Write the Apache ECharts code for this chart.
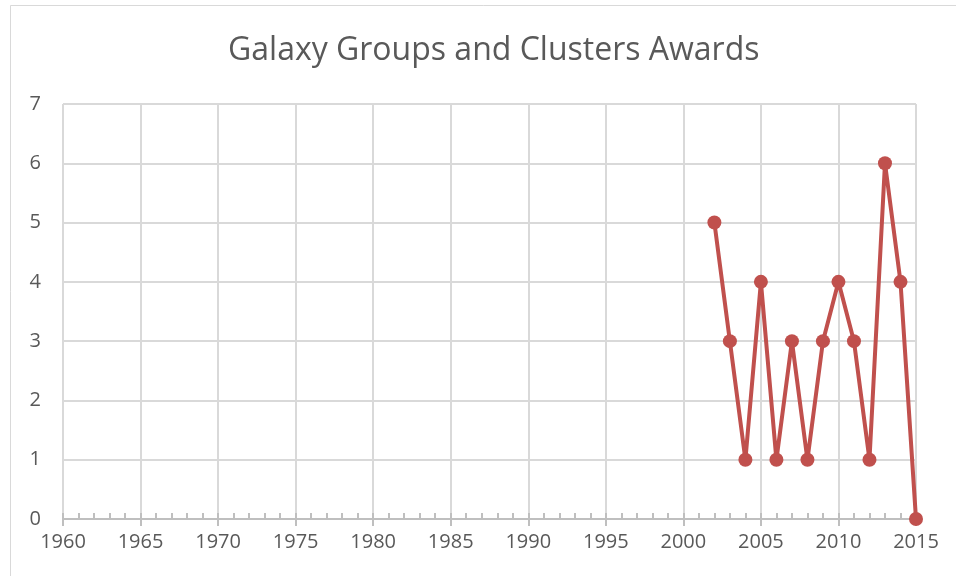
<!DOCTYPE html>
<html>
<head>
<meta charset="utf-8">
<script src="https://cdn.jsdelivr.net/npm/echarts@6/dist/echarts.min.js"></script>
<style>
  html, body { margin: 0; padding: 0; background: #fff; }
  #chart { width: 956px; height: 576px; }
</style>
</head>
<body>
<div id="chart"></div>
<script>
// award counts per year
var years = [2002, 2003, 2004, 2005, 2006, 2007, 2008, 2009, 2010, 2011, 2012, 2013, 2014, 2015];
var awards = [5, 3, 1, 4, 1, 3, 1, 3, 4, 3, 1, 6, 4, 0];

var xMin = 1960, xMax = 2015;
var yMin = 0, yMax = 7;

var points = years.map(function(y, i){ return [y, awards[i]]; });

var chart = echarts.init(document.getElementById('chart'));

var gridPos = { left: 63, right: 40, top: 104, bottom: 57 };

chart.setOption({
  backgroundColor: '#fff',
  animation: false,
  title: {
    text: 'Galaxy Groups and Clusters Awards',
    left: 223,
    top: 30,
    textStyle: { fontFamily: 'Open Sans', fontWeight: 'normal', fontSize: 32, color: '#595959' }
  },
  graphic: [{
    // outer chart frame
    type: 'rect',
    shape: { x: 10.5, y: 5.5, width: 960, height: 600 },
    style: { fill: 'none', stroke: '#d9d9d9', lineWidth: 1 },
    silent: true
  }],
  grid: [gridPos],
  xAxis: [{
    type: 'value',
    min: xMin, max: xMax, interval: 5,
    axisLine: { show: true, lineStyle: { color: '#bfbfbf', width: 2 } },
    axisTick: { show: true, length: 7, lineStyle: { color: '#bfbfbf', width: 2 } },
    splitLine: { show: true, lineStyle: { color: '#d9d9d9', width: 2 } },
    axisLabel: {
      fontFamily: 'Open Sans', fontSize: 20, color: '#595959', margin: 13,
      formatter: function(v){ return String(v); }
    }
  }, {
    // minor ticks (every year), pointing up into the plot
    type: 'value', position: 'bottom',
    min: xMin, max: xMax, interval: 1,
    axisLine: { show: false },
    axisTick: { show: true, inside: true, length: 6, lineStyle: { color: '#bfbfbf', width: 2 } },
    splitLine: { show: false },
    axisLabel: { show: false }
  }],
  yAxis: {
    type: 'value',
    min: yMin, max: yMax, interval: 1,
    axisLine: { show: false },
    axisTick: { show: false },
    splitLine: { show: true, lineStyle: { color: '#d9d9d9', width: 2 } },
    axisLabel: { fontFamily: 'Open Sans', fontSize: 20, color: '#595959', margin: 22 }
  },
  series: [{
    type: 'line',
    data: points,
    symbol: 'circle',
    symbolSize: 14,
    lineStyle: { color: '#c0504d', width: 4 },
    itemStyle: { color: '#c0504d' },
    clip: false,
    z: 5
  }]
});
</script>
</body>
</html>
